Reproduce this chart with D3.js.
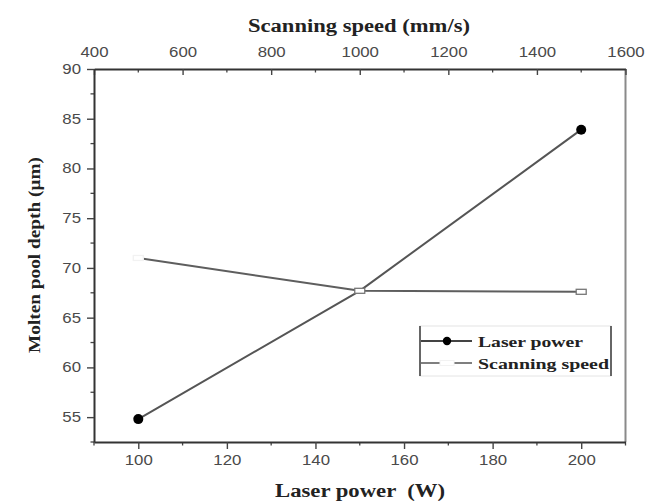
<!DOCTYPE html>
<html><head><meta charset="utf-8">
<script src="https://cdn.jsdelivr.net/npm/d3@7"></script>
<style>
body{margin:0;background:#fff;}
svg{display:block;}
</style></head>
<body>
<svg id="chart" width="645" height="503"></svg>
<script>
// ---- data ----
const laserPower = [100, 150, 200];          // W (bottom axis)
const depthLaser = [54.8, 67.7, 83.9];       // μm
const scanSpeed = [500, 1000, 1500];         // mm/s (top axis)
const depthScan = [71.0, 67.7, 67.6];        // μm
const bottomTicks = [100, 120, 140, 160, 180, 200];
const topTicks = [400, 600, 800, 1000, 1200, 1400, 1600];
const yTicks = [55, 60, 65, 70, 75, 80, 85, 90];
const seriesNames = ["Laser power", "Scanning speed"];

const svg = d3.select("#chart");
const L = 94, R = 625.5, T = 69, B = 442;

const xB = d3.scaleLinear().domain([90, 210]).range([L, R]);
const xT = d3.scaleLinear().domain([400, 1600]).range([L, R]);
const y = d3.scaleLinear().domain([52.5, 90]).range([B, T]);

function stretch(sel, f) {
  sel.each(function () {
    const w = this.getComputedTextLength();
    d3.select(this).attr("textLength", w * f).attr("lengthAdjust", "spacingAndGlyphs");
  });
}
function fitTo(sel, w) {
  sel.attr("textLength", w).attr("lengthAdjust", "spacingAndGlyphs");
}

// minor ticks
const minorB = d3.range(90, 211, 10).filter(v => !bottomTicks.includes(v));
const minorT = d3.range(500, 1600, 200);
const minorY = d3.range(52.5, 90, 5);

svg.append("g").selectAll("line").data(minorB).join("line")
  .attr("x1", d => xB(d)).attr("x2", d => xB(d)).attr("y1", B).attr("y2", B + 3.5)
  .attr("stroke", "#444").attr("stroke-width", 1.3);
svg.append("g").selectAll("line").data(minorT).join("line")
  .attr("x1", d => xT(d)).attr("x2", d => xT(d)).attr("y1", T).attr("y2", T + 3.5)
  .attr("stroke", "#444").attr("stroke-width", 1.3);
svg.append("g").selectAll("line").data(minorY).join("line")
  .attr("x1", L - 3.5).attr("x2", L).attr("y1", d => y(d)).attr("y2", d => y(d))
  .attr("stroke", "#444").attr("stroke-width", 1.3);

// right border
svg.append("line").attr("x1", R).attr("x2", R).attr("y1", T).attr("y2", B)
  .attr("stroke", "#8a8a8a").attr("stroke-width", 2);

function styleAxis(g) {
  g.select(".domain").attr("stroke", "#333").attr("stroke-width", 2);
  g.selectAll(".tick line").attr("stroke", "#444").attr("stroke-width", 1.4);
  g.selectAll(".tick text").attr("fill", "#4a4a4a")
    .style("font-family", "'Liberation Sans', Arial, sans-serif").style("font-size", "14px");
}

const fmt = d3.format("d");
const gB = svg.append("g").attr("transform", `translate(0,${B})`)
  .call(d3.axisBottom(xB).tickValues(bottomTicks).tickFormat(fmt).tickSizeInner(7).tickSizeOuter(0).tickPadding(6));
styleAxis(gB);
const gT = svg.append("g").attr("transform", `translate(0,${T})`)
  .call(d3.axisTop(xT).tickValues(topTicks).tickFormat(fmt).tickSizeInner(-6).tickSizeOuter(0).tickPadding(12));
styleAxis(gT);
const gL = svg.append("g").attr("transform", `translate(${L},0)`)
  .call(d3.axisLeft(y).tickValues(yTicks).tickFormat(fmt).tickSizeInner(7).tickSizeOuter(0).tickPadding(6));
styleAxis(gL);
[gB, gT, gL].forEach(g => stretch(g.selectAll(".tick text"), 1.2));

// titles
const titleFont = "'Liberation Serif', 'Times New Roman', serif";
const tTop = svg.append("text").attr("x", 359).attr("y", 32).attr("text-anchor", "middle")
  .style("font-family", titleFont).style("font-weight", "bold").style("font-size", "18px")
  .attr("fill", "#222").text("Scanning speed (mm/s)");
fitTo(tTop, 222);
const tBot = svg.append("text").attr("x", 360).attr("y", 497).attr("text-anchor", "middle")
  .style("font-family", titleFont).style("font-weight", "bold").style("font-size", "18px")
  .style("white-space", "pre").attr("fill", "#222").text("Laser power  (W)");
fitTo(tBot, 170);
const tY = svg.append("text").attr("transform", "translate(40,255) rotate(-90)")
  .attr("text-anchor", "middle")
  .style("font-family", titleFont).style("font-weight", "bold").style("font-size", "17px")
  .attr("fill", "#222").text("Molten pool depth (μm)");
fitTo(tY, 196);

// series lines
const lpData = laserPower.map((v, i) => [xB(v), y(depthLaser[i])]);
const ssData = scanSpeed.map((v, i) => [xT(v), y(depthScan[i])]);
const line = d3.line();

svg.append("path").attr("d", line(ssData)).attr("fill", "none")
  .attr("stroke", "#5e5e5e").attr("stroke-width", 2);
svg.append("path").attr("d", line(lpData)).attr("fill", "none")
  .attr("stroke", "#555").attr("stroke-width", 2);

// laser power markers (hidden where covered by an open scanning-speed marker)
const lpVisible = lpData.filter(p => !ssData.some(q => Math.abs(q[0] - p[0]) < 4 && Math.abs(q[1] - p[1]) < 4));
svg.append("g").selectAll("circle").data(lpVisible).join("circle")
  .attr("cx", d => d[0]).attr("cy", d => d[1]).attr("r", 5).attr("fill", "#000");

// scanning speed markers (open)
svg.append("g").selectAll("rect").data(ssData).join("rect")
  .attr("x", d => d[0] - 5).attr("y", d => d[1] - 2.5).attr("width", 10).attr("height", 5)
  .attr("fill", "#fff").attr("stroke", (d, i) => i === 0 ? "#f2f2f2" : "#777").attr("stroke-width", 1.3);

// legend
const lg = svg.append("g");
lg.append("rect").attr("x", 420).attr("y", 326).attr("width", 191).attr("height", 50)
  .attr("fill", "#fff").attr("stroke", "#e4e4e4").attr("stroke-width", 1);
lg.append("line").attr("x1", 420).attr("x2", 420).attr("y1", 326).attr("y2", 376)
  .attr("stroke", "#666").attr("stroke-width", 2);
lg.append("line").attr("x1", 611).attr("x2", 611).attr("y1", 326).attr("y2", 376)
  .attr("stroke", "#666").attr("stroke-width", 2);
const rows = [341, 363];
lg.append("line").attr("x1", 421).attr("x2", 472).attr("y1", rows[0]).attr("y2", rows[0])
  .attr("stroke", "#444").attr("stroke-width", 1.8);
lg.append("circle").attr("cx", 447).attr("cy", rows[0]).attr("r", 4.2).attr("fill", "#000");
lg.append("line").attr("x1", 421).attr("x2", 472).attr("y1", rows[1]).attr("y2", rows[1])
  .attr("stroke", "#555").attr("stroke-width", 1.5);
lg.append("rect").attr("x", 440).attr("y", rows[1] - 2.5).attr("width", 14).attr("height", 5)
  .attr("fill", "#fff").attr("stroke", "#f2f2f2").attr("stroke-width", 1);
const legTexts = lg.selectAll("text.lt").data(seriesNames).join("text").attr("class", "lt")
  .attr("x", 478).attr("y", (d, i) => rows[i] + 6)
  .style("font-family", titleFont).style("font-weight", "bold").style("font-size", "15px")
  .attr("fill", "#222").text(d => d);
legTexts.each(function (d, i) { fitTo(d3.select(this), i === 0 ? 105 : 131); });
</script>
</body></html>
